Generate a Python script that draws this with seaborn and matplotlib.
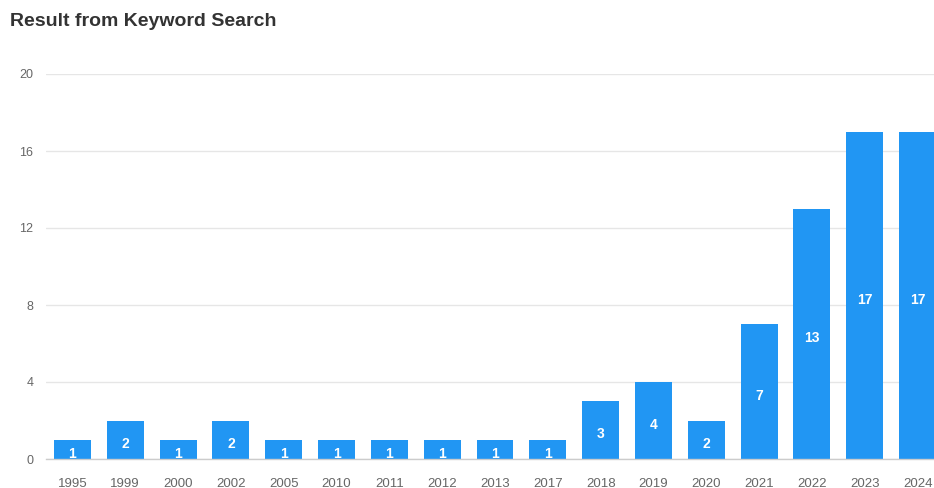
import matplotlib
matplotlib.use("Agg")
import matplotlib.pyplot as plt
import seaborn as sns
import pandas as pd
import numpy as np
from matplotlib.ticker import FixedLocator

years = ["1995", "1999", "2000", "2002", "2005", "2010", "2011", "2012", "2013",
         "2017", "2018", "2019", "2020", "2021", "2022", "2023", "2024"]
counts = [1, 2, 1, 2, 1, 1, 1, 1, 1, 1, 3, 4, 2, 7, 13, 17, 17]
y_ticks = [0, 4, 8, 12, 16, 20]
title = "Result from Keyword Search"

sns.set_theme(style="white")
plt.rcParams['font.family'] = ['Liberation Sans', 'DejaVu Sans']

df = pd.DataFrame({"year": years, "count": counts})

W, H = 934, 488
fig = plt.figure(figsize=(W / 100, H / 100), dpi=100)
left, right = 46, 944
top, bottom = 74, 459
ax = fig.add_axes([left / W, (H - bottom) / H, (right - left) / W, (bottom - top) / H])

sns.barplot(data=df, x="year", y="count", color="#2196f3", width=0.7,
            saturation=1, ax=ax, zorder=3, edgecolor="none")

ax.set_ylim(0, 20)
ax.set_xlim(-0.5, len(years) - 0.5)
ax.set_yticks(y_ticks)
ax.set_yticklabels([str(t) for t in y_ticks])
ax.yaxis.grid(True, color="#e6e6e6", linewidth=1, zorder=0)
ax.xaxis.grid(False)
for s in ["top", "right", "left"]:
    ax.spines[s].set_visible(False)
ax.spines["bottom"].set_color("#cccccc")
ax.spines["bottom"].set_linewidth(1)
ax.spines["bottom"].set_zorder(4)

ax.tick_params(axis="y", length=0, pad=9, labelsize=9, labelcolor="#666666")
ax.tick_params(axis="x", which="major", length=0, pad=14, labelsize=9.5, labelcolor="#666666")
ax.xaxis.set_minor_locator(FixedLocator(np.arange(-0.5, len(years), 1.0)))
ax.tick_params(axis="x", which="minor", length=4, width=1, color="#cccccc", direction="out")
ax.set_xlabel("")
ax.set_ylabel("")

for i, v in enumerate(counts):
    ax.annotate(str(v), xy=(i, v / 2), xytext=(0, -3), textcoords="offset points",
                ha="center", va="center", color="white", fontsize=10,
                fontweight="bold", zorder=5, annotation_clip=True, clip_on=True)

fig.text(10 / W, 1 - 22 / H, title, ha="left", va="center", fontsize=14,
         fontweight="bold", color="#333333")

fig.savefig("out.png", dpi=100)
